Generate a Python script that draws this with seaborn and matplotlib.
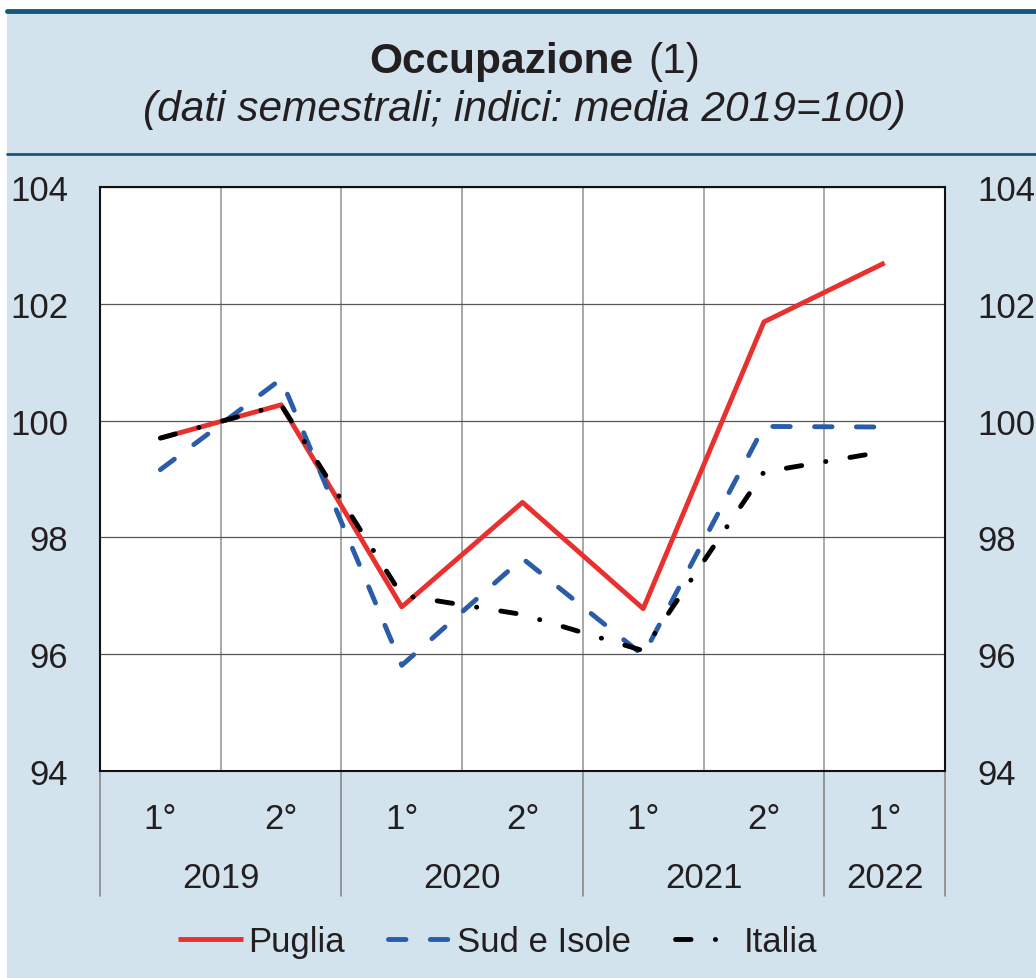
import pandas as pd
import matplotlib
matplotlib.use('Agg')
import matplotlib.pyplot as plt
import seaborn as sns
from matplotlib.patches import Rectangle
from matplotlib.lines import Line2D

# Dati (indici: media 2019=100)
semestri = ['1°', '2°', '1°', '2°', '1°', '2°', '1°']
anni = ['2019', '2020', '2021', '2022']
anni_centro = [0.5, 2.5, 4.5, 6.0]
serie = ['Puglia', 'Sud e Isole', 'Italia']
puglia = [99.70, 100.27, 96.81, 98.60, 96.78, 101.69, 102.70]
sud_isole = [99.16, 100.71, 95.81, 97.64, 95.98, 99.90, 99.89]
italia = [99.70, 100.27, 97.01, 96.68, 96.06, 99.12, 99.47]
y_ticks = [94, 96, 98, 100, 102, 104]

df = pd.DataFrame({
    'periodo': list(range(len(semestri))) * 3,
    'valore': puglia + sud_isole + italia,
    'serie': [s for s in serie for _ in semestri],
})

colori = {'Puglia': '#e8312f', 'Sud e Isole': '#2a5ca8', 'Italia': '#000000'}
tratti = {'Puglia': '', 'Sud e Isole': (3.6, 5.0), 'Italia': (3.2, 5.0, 0.05, 5.0)}
sfondo = '#d3e3ed'
blu_scuro = '#14597c'
testo = '#231f20'

sns.set_style('white')
plt.rcParams['font.family'] = ['Liberation Sans', 'DejaVu Sans']
plt.rcParams['text.color'] = testo

fig = plt.figure(figsize=(10.36, 9.79), dpi=100)
fig.patch.set_facecolor('white')
# pannello azzurro e filetti
fig.patches.append(Rectangle((7 / 1036, 0), 1, 1 - 12 / 979, transform=fig.transFigure,
                             facecolor=sfondo, edgecolor='none', zorder=-10))
fig.add_artist(Line2D([7 / 1036, 1], [1 - 12 / 979] * 2, color=blu_scuro, lw=3.5))
fig.add_artist(Line2D([7 / 1036, 1], [1 - 155 / 979] * 2, color=blu_scuro, lw=2))

fig.text(633 / 1036, 1 - 62 / 979, 'Occupazione', ha='right', va='center',
         fontsize=30.5, fontweight='bold')
fig.text(648 / 1036, 1 - 62 / 979, '(1)', ha='left', va='center', fontsize=30.5)
fig.text(524 / 1036, 1 - 110 / 979, '(dati semestrali; indici: media 2019=100)',
         ha='center', va='center', fontsize=30.5, style='italic')

ax = fig.add_axes([100 / 1036, 1 - 772 / 979, 845 / 1036, 584 / 979])
ax.set_facecolor('white')

sns.lineplot(data=df, x='periodo', y='valore', hue='serie', style='serie',
             hue_order=serie, style_order=serie, palette=colori, dashes=tratti,
             linewidth=3.5, legend=False, sort=False, ax=ax)
linee = list(ax.lines)
for ln in linee:
    ln.set_dash_capstyle('round')
    ln.set_solid_capstyle('butt')

ax.set_xlim(-0.5, len(semestri) - 0.5)
ax.set_ylim(94, 104)
ax.set_yticks(y_ticks)
ax.set_xticks(range(len(semestri)))
ax.set_xticklabels(semestri)
ax.set_xticks([i + 0.5 for i in range(len(semestri) - 1)], minor=True)
ax.set_xlabel('')
ax.set_ylabel('')

ax.grid(False)
ax.grid(True, axis='y', which='major', color='#555555', lw=0.9)
ax.grid(True, axis='x', which='minor', color='#999999', lw=1.2)
ax.tick_params(axis='y', labelsize=25, length=0, pad=23, labelright=True, labelcolor=testo)
ax.tick_params(axis='x', which='major', labelsize=25, length=0, pad=22, labelcolor=testo)
ax.tick_params(axis='x', which='minor', length=0)
for sp in ax.spines.values():
    sp.set_color('#111111')
    sp.set_linewidth(1.5)

# separatori degli anni sotto l'asse
tr = ax.get_xaxis_transform()
for xs in [-0.5, 1.5, 3.5, 5.5, 6.5]:
    ax.plot([xs, xs], [0, -125 / 584], transform=tr, color='#888888', lw=1.2, clip_on=False)
for xc, anno in zip(anni_centro, anni):
    ax.text(xc, -107 / 584, anno, transform=tr, ha='center', va='center', fontsize=25)

fig.legend(linee, serie, loc='center', bbox_to_anchor=(498 / 1036, 1 - 943 / 979),
           ncol=3, frameon=False, fontsize=25, handlelength=1.85, handletextpad=0.15,
           columnspacing=1.25)

fig.savefig('out.png', dpi=100, facecolor=fig.get_facecolor())
